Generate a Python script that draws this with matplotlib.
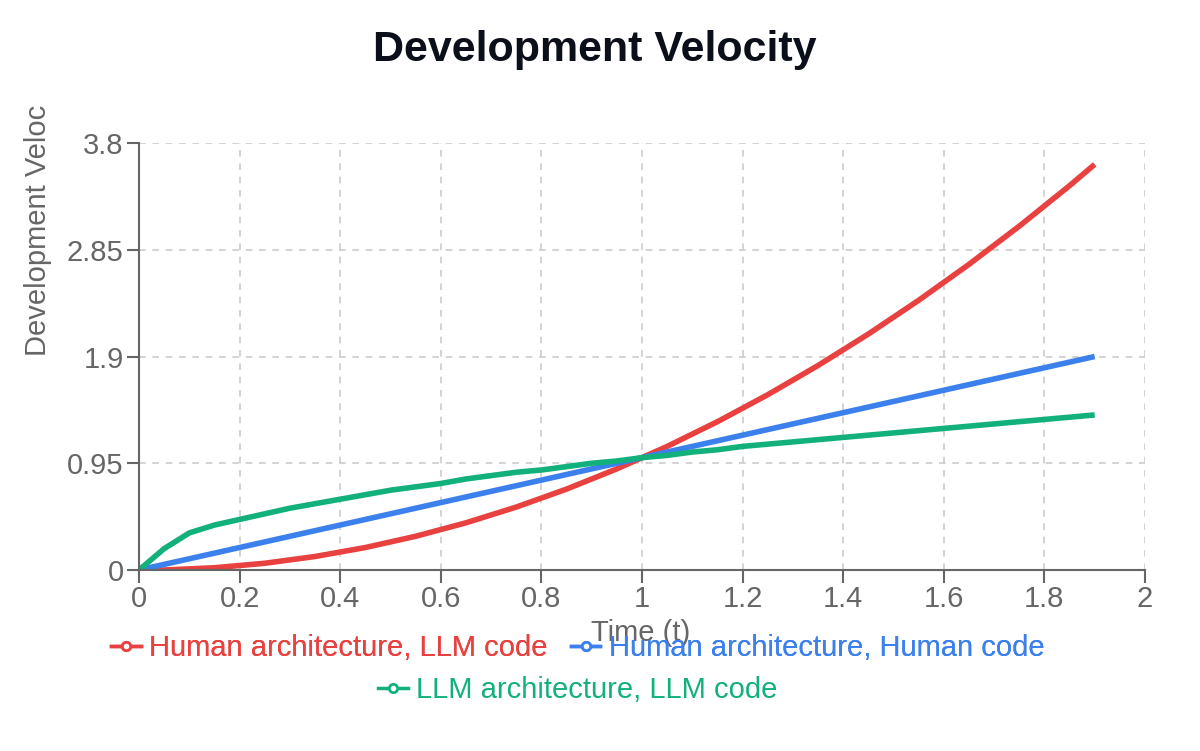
import matplotlib
matplotlib.use("Agg")
import matplotlib.pyplot as plt
from matplotlib.transforms import Bbox

# time samples and the three velocity curves
t = [0.0, 0.05, 0.1, 0.15, 0.2, 0.25, 0.3, 0.35, 0.4, 0.45, 0.5, 0.55, 0.6, 0.65,
     0.7, 0.75, 0.8, 0.85, 0.9, 0.95, 1.0, 1.05, 1.1, 1.15, 1.2, 1.25, 1.3, 1.35,
     1.4, 1.45, 1.5, 1.55, 1.6, 1.65, 1.7, 1.75, 1.8, 1.85, 1.9]
human_arch_llm_code = [0.0, 0.0, 0.01, 0.02, 0.04, 0.06, 0.09, 0.12, 0.16, 0.2, 0.25,
                       0.3, 0.36, 0.42, 0.49, 0.56, 0.64, 0.72, 0.81, 0.9, 1.0, 1.1,
                       1.21, 1.32, 1.44, 1.56, 1.69, 1.82, 1.96, 2.1, 2.25, 2.4, 2.56,
                       2.72, 2.89, 3.06, 3.24, 3.42, 3.61]
human_arch_human_code = [0.0, 0.05, 0.1, 0.15, 0.2, 0.25, 0.3, 0.35, 0.4, 0.45, 0.5,
                         0.55, 0.6, 0.65, 0.7, 0.75, 0.8, 0.85, 0.9, 0.95, 1.0, 1.05,
                         1.1, 1.15, 1.2, 1.25, 1.3, 1.35, 1.4, 1.45, 1.5, 1.55, 1.6,
                         1.65, 1.7, 1.75, 1.8, 1.85, 1.9]
llm_arch_llm_code = [0.0, 0.19, 0.33, 0.4, 0.45, 0.5, 0.55, 0.59, 0.63, 0.67, 0.71,
                     0.74, 0.77, 0.81, 0.84, 0.87, 0.89, 0.92, 0.95, 0.97, 1.0, 1.02,
                     1.05, 1.07, 1.1, 1.12, 1.14, 1.16, 1.18, 1.2, 1.22, 1.24, 1.26,
                     1.28, 1.3, 1.32, 1.34, 1.36, 1.38]

series = [
    ("Human architecture, LLM code", human_arch_llm_code, "#e8413f"),
    ("Human architecture, Human code", human_arch_human_code, "#3b80ed"),
    ("LLM architecture, LLM code", llm_arch_llm_code, "#12b07a"),
]

x_ticks = [0, 0.2, 0.4, 0.6, 0.8, 1, 1.2, 1.4, 1.6, 1.8, 2]
x_tick_labels = ["0", "0.2", "0.4", "0.6", "0.8", "1", "1.2", "1.4", "1.6", "1.8", "2"]
y_ticks = [0, 0.95, 1.9, 2.85, 3.8]
y_tick_labels = ["0", "0.95", "1.9", "2.85", "3.8"]

GRAY = "#666666"
FS = 21


def main() -> None:
    plt.rcParams["font.family"] = ["Liberation Sans", "DejaVu Sans"]
    fig = plt.figure(figsize=(12, 7.51), dpi=100)
    ax = fig.add_axes([139 / 1200, 1 - 570 / 751, (1145 - 139) / 1200, (570 - 143) / 751])

    for label, vals, color in series:
        ax.plot(t, vals, color=color, linewidth=4, label=label,
                solid_capstyle="butt", solid_joinstyle="round")

    ax.set_xlim(0, 2)
    ax.set_ylim(0, 3.8)
    ax.set_xticks(x_ticks)
    ax.set_xticklabels(x_tick_labels)
    ax.set_yticks(y_ticks)
    ax.set_yticklabels(y_tick_labels)
    ax.tick_params(labelsize=FS, colors=GRAY, length=9, width=1.5, pad=2)
    ax.grid(True, color="#cccccc", linestyle=(0, (4, 4)), linewidth=1.2)
    ax.set_axisbelow(True)
    for side in ("top", "right"):
        ax.spines[side].set_visible(False)
    for side in ("left", "bottom"):
        ax.spines[side].set_color(GRAY)
        ax.spines[side].set_linewidth(1.5)

    fig.text(595 / 1200, 1 - 50 / 751, "Development Velocity", ha="center", va="center",
             fontsize=31, fontweight="bold", color="#0b0f1a")

    # y title is clipped at the top in the original
    ylab = fig.text(38 / 1200, 1 - 356 / 751, "Development Velocity", rotation=90,
                    rotation_mode="anchor", ha="left", va="center", fontsize=FS, color=GRAY)
    ylab.set_clip_on(True)
    ylab.set_clip_box(Bbox.from_extents(0, 0, 60, 751 - 104))

    fig.text(641 / 1200, 1 - 633 / 751, "Time (t)", ha="center", va="center",
             fontsize=FS, color=GRAY)

    # legend rows: two entries, then one centred
    proxies = []
    for label, vals, color in series:
        p, = ax.plot([], [], color=color, linewidth=2.5, marker="o", markersize=6,
                     markerfacecolor="white", markeredgewidth=2, label=label)
        proxies.append(p)
    leg1 = fig.legend(proxies[:2], [s[0] for s in series[:2]], loc="center",
                      bbox_to_anchor=(578 / 1200, 1 - 648 / 751), ncol=2, frameon=False,
                      fontsize=FS, labelcolor="linecolor", handlelength=1.0,
                      handletextpad=0.3, columnspacing=0.8)
    fig.add_artist(leg1)
    fig.legend(proxies[2:], [series[2][0]], loc="center",
               bbox_to_anchor=(578 / 1200, 1 - 690 / 751), frameon=False,
               fontsize=FS, labelcolor="linecolor", handlelength=1.0,
               handletextpad=0.3)

    fig.savefig("out.png", dpi=100)
    plt.close(fig)


if __name__ == "__main__":
    main()
